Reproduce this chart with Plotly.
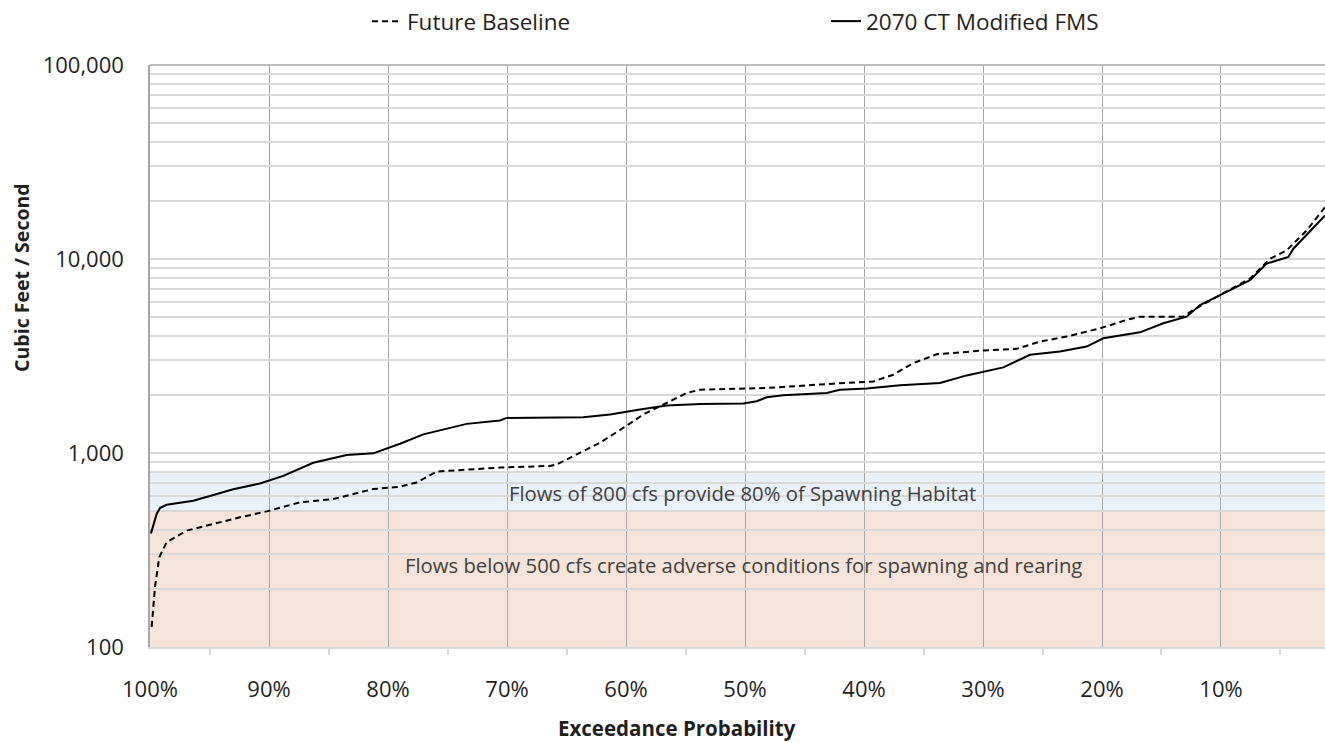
import plotly.graph_objects as go

# ---- data (exceedance probability %, flow cfs) ----
fms_exceed = [99.92, 99.44, 99.16, 98.60, 96.36, 94.96, 93.00, 90.76, 88.80, 86.28,
              83.47, 81.24, 78.99, 77.03, 73.39, 70.59, 70.03, 63.59, 61.34, 58.82,
              56.58, 53.78, 50.14, 49.02, 48.18, 46.78, 43.14, 42.02, 39.77, 36.97,
              33.61, 31.37, 29.97, 28.29, 26.05, 23.53, 21.29, 19.89, 16.81, 14.85,
              12.89, 11.76, 10.08, 7.56, 6.16, 4.34, 3.92, 2.24, 1.26]
fms_flow = [385, 485, 520, 541, 567, 601, 651, 696, 762, 891,
            977, 996, 1116, 1248, 1413, 1470, 1517, 1530, 1581, 1676,
            1757, 1791, 1800, 1849, 1938, 1983, 2037, 2120, 2148, 2234,
            2297, 2512, 2634, 2763, 3209, 3337, 3538, 3902, 4189, 4661,
            5045, 5793, 6521, 7784, 9470, 10240, 11300, 14590, 16750]

base_exceed = [99.86, 99.58, 99.22, 98.60, 96.92, 94.68, 92.44, 90.19, 87.39, 84.60,
               81.24, 78.99, 77.59, 75.91, 70.59, 66.39, 65.82, 64.14, 62.18, 60.22,
               58.54, 56.86, 54.90, 53.78, 48.18, 42.58, 39.22, 37.54, 35.86, 33.89,
               29.97, 27.17, 25.21, 22.97, 20.17, 17.93, 16.81, 13.17, 12.33, 10.08,
               7.56, 5.88, 4.48, 2.80, 1.26]
base_flow = [127, 204, 290, 347, 398, 431, 466, 500, 557, 579,
             652, 670, 705, 802, 841, 858, 873, 983, 1130, 1349,
             1580, 1778, 2038, 2120, 2163, 2277, 2339, 2531, 2903, 3228,
             3376, 3443, 3753, 3981, 4393, 4853, 5045, 5045, 5460, 6521,
             7930, 10020, 11090, 14020, 18500]

series_names = ["Future Baseline", "2070 CT Modified FMS"]

x_tickvals = [100, 90, 80, 70, 60, 50, 40, 30, 20, 10]
x_ticktext = ["100%", "90%", "80%", "70%", "60%", "50%", "40%", "30%", "20%", "10%"]
x_minor_ticks = [95, 85, 75, 65, 55, 45, 35, 25, 15, 5]

y_major = [100, 1000, 10000, 100000]
y_major_text = ["100", "1,000", "10,000", "100,000"]

band_habitat = [500, 800]
band_adverse = [100, 500]
band_labels = ["Flows of 800 cfs provide 80% of Spawning Habitat",
               "Flows below 500 cfs create adverse conditions for spawning and rearing"]

# ---- build y tick lists (gridlines at every 1-9 multiple) ----
y_tickvals, y_ticktext = [], []
for dec in [100, 1000, 10000]:
    for m in range(1, 10):
        v = dec * m
        y_tickvals.append(v)
        y_ticktext.append(y_major_text[y_major.index(v)] if v in y_major else "")
y_tickvals.append(100000)
y_ticktext.append("100,000")

FONT = "Open Sans"
TXT = "#1f1f1f"

fig = go.Figure()
fig.add_trace(go.Scatter(x=base_exceed, y=base_flow, mode="lines", name=series_names[0],
                         line=dict(color="black", width=2, dash="6px,4px")))
fig.add_trace(go.Scatter(x=fms_exceed, y=fms_flow, mode="lines", name=series_names[1],
                         line=dict(color="black", width=2)))

# shaded bands
fig.add_shape(type="rect", xref="paper", yref="y", x0=0, x1=1,
              y0=band_adverse[0], y1=band_adverse[1],
              fillcolor="#f6e4da", line=dict(width=0), layer="below")
fig.add_shape(type="rect", xref="paper", yref="y", x0=0, x1=1,
              y0=band_habitat[0], y1=band_habitat[1],
              fillcolor="#eaf1f9", line=dict(width=0), layer="below")
# top border
fig.add_shape(type="line", xref="paper", yref="paper", x0=0, x1=1, y0=1, y1=1,
              line=dict(color="#a6a6a6", width=1.5))

fig.add_annotation(text=band_labels[0], xref="paper", yref="paper", x=0.504,
                   y=(647 - 492) / 585, showarrow=False, yanchor="middle",
                   font=dict(family=FONT, size=20.3, color="#404040"))
fig.add_annotation(text=band_labels[1], xref="paper", yref="paper", x=0.505,
                   y=(647 - 565) / 585, showarrow=False, yanchor="middle",
                   font=dict(family=FONT, size=20.3, color="#404040"))

# axis titles as annotations (offset positions as in original)
fig.add_annotation(text="<b>Cubic Feet / Second</b>", xref="paper", yref="paper",
                   x=(22 - 150) / 1175, y=(647 - 276) / 585, textangle=-90,
                   xanchor="center", yanchor="middle",
                   showarrow=False, font=dict(family=FONT, size=19.5, color=TXT))
fig.add_annotation(text="<b>Exceedance Probability</b>", xref="paper", yref="paper",
                   x=(677 - 150) / 1175, y=(647 - 728) / 585,
                   xanchor="center", yanchor="middle",
                   showarrow=False, font=dict(family=FONT, size=20.5, color=TXT))

fig.update_layout(
    width=1325, height=743,
    margin=dict(l=150, r=0, t=62, b=96),
    paper_bgcolor="white", plot_bgcolor="white",
    font=dict(family=FONT, size=22, color=TXT),
    showlegend=True,
    legend=dict(orientation="h", x=(367 - 150) / 1175, xanchor="left",
                y=(647 - 18) / 585, yanchor="middle",
                entrywidth=414, font=dict(family=FONT, size=22.5, color=TXT),
                bgcolor="rgba(0,0,0,0)"),
)

fig.update_xaxes(range=[100, 1.26], tickvals=x_tickvals, ticktext=x_ticktext,
                 showgrid=True, gridcolor="#a6a6a6", gridwidth=1,
                 ticks="", ticklabelstandoff=22, zeroline=False,
                 showline=True, linecolor="#d9d9d9", linewidth=1.5,
                 tickfont=dict(family=FONT, size=22, color=TXT),
                 minor=dict(tickvals=x_minor_ticks, ticks="outside", ticklen=6,
                            tickcolor="#d9d9d9", tickwidth=1.5, showgrid=False))
fig.update_yaxes(type="log", range=[2, 5], tickvals=y_tickvals, ticktext=y_ticktext,
                 showgrid=True, gridcolor="#d9d9d9", gridwidth=1.5,
                 ticks="", ticklabelstandoff=20, zeroline=False,
                 showline=True, linecolor="#a6a6a6", linewidth=1.5,
                 tickfont=dict(family=FONT, size=22, color=TXT))

fig.write_html("out.html",
               config={"displayModeBar": False},
               post_script="document.body.style.margin='0';"
                           "document.body.style.overflow='hidden';")
